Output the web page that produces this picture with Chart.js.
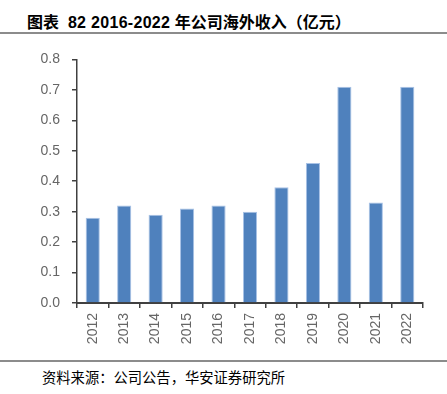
<!DOCTYPE html>
<html>
<head>
<meta charset="utf-8">
<script src="https://cdn.jsdelivr.net/npm/chart.js@4"></script>
<style>
  body { margin: 0; background: #fff; }
  #wrap { position: relative; width: 447px; height: 394px; overflow: hidden; }
  .title {
    position: absolute; left: 27px; top: 9px;
    font: bold 16px "Liberation Sans", "Noto Sans CJK SC", sans-serif; color: #000;
  }
  .title .num { letter-spacing: 0.3px; }
  .rule { position: absolute; left: 0; width: 447px; height: 2px; background: #8c8c8c; }
  .source {
    position: absolute; left: 42px; top: 366px;
    font: 14.3px "Noto Sans CJK SC", sans-serif; color: #000;
  }
  #box { position: absolute; left: 0; top: 39px; width: 447px; height: 316px; }
</style>
</head>
<body>
<div id="wrap">
  <div class="title">图表&nbsp; <span class="num">82 2016-2022</span> 年公司海外收入（亿元）</div>
  <div class="rule" style="top:32px"></div>
  <div id="box"><canvas id="chart"></canvas></div>
  <div class="rule" style="top:360px"></div>
  <div class="source">资料来源：公司公告，华安证券研究所</div>
</div>
<script>
const years = ['2012', '2013', '2014', '2015', '2016', '2017', '2018', '2019', '2020', '2021', '2022'];
const revenue = [0.28, 0.32, 0.29, 0.31, 0.32, 0.30, 0.38, 0.46, 0.71, 0.33, 0.71];
const yTicks = [0, 0.1, 0.2, 0.3, 0.4, 0.5, 0.6, 0.7, 0.8];

document.addEventListener('DOMContentLoaded', function() {
    const tickFont = { family: '"Liberation Sans", Arial, sans-serif', size: 14 };
    new Chart(document.getElementById('chart'), {
        type: 'bar',
        data: {
            labels: years,
            datasets: [{
                data: revenue,
                backgroundColor: '#4f81bd',
                borderColor: '#a8c2e6',
                borderWidth: { top: 1, left: 1, right: 1, bottom: 0 },
                categoryPercentage: 1,
                barPercentage: 0.45
            }]
        },
        options: {
            responsive: true,
            maintainAspectRatio: false,
            animation: false,
            layout: { padding: { top: 0, right: 24, left: 0, bottom: 0 } },
            plugins: { legend: { display: false }, tooltip: { enabled: false } },
            scales: {
                x: {
                    grid: { drawOnChartArea: false, tickLength: 5, color: '#404040', lineWidth: 1.5, offset: true },
                    border: { color: '#404040', width: 2 },
                    ticks: { color: '#666666', font: tickFont, maxRotation: 90, minRotation: 90, padding: 5 },
                    afterFit: function(scale) { scale.height = 52; }
                },
                y: {
                    min: 0,
                    max: 0.8,
                    afterBuildTicks: function(scale) {
                        scale.ticks = yTicks.map(v => ({ value: v }));
                    },
                    grid: { drawOnChartArea: false, tickLength: 5, color: '#404040', lineWidth: 1.5 },
                    border: { color: '#404040', width: 1.5 },
                    ticks: {
                        color: '#666666', font: tickFont, padding: 12,
                        callback: v => v.toFixed(1)
                    },
                    afterFit: function(scale) { scale.width = 77; }
                }
            }
        }
    });
});
</script>
</body>
</html>
